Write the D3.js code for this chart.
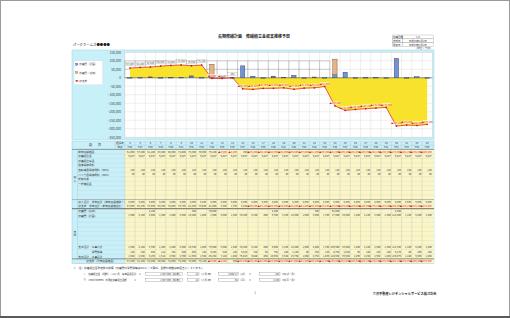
<!DOCTYPE html>
<html lang="ja">
<head>
<meta charset="utf-8">
<title>長期修繕計画 修繕積立金収支推移予想</title>
<script src="https://cdn.jsdelivr.net/npm/d3@7"></script>
<style>
  body { margin: 0; background: #fff; }
  svg { display: block; font-family: "Noto Sans CJK JP", "Noto Sans", sans-serif; }
</style>
</head>
<body>
<script>
// ---- data (千円) ----
var elapsed = [4, 5, 6, 7, 8, 9, 10, 11, 12, 13, 14, 15, 16, 17, 18, 19, 20, 21, 22, 23, 24, 25, 26, 27, 28, 29, 30, 31, 32, 33];
var fiscal = ["H26", "H27", "H28", "H29", "H30", "H31", "H32", "H33", "H34", "H35", "H36", "H37", "H38", "H39", "H40",
              "H41", "H42", "H43", "H44", "H45", "H46", "H47", "H48", "H49", "H50", "H51", "H52", "H53", "H54", "H55"];
var balance = [57200, 61100, 63400, 68900, 72800, 75300, 70900, 75100, -3600, -4200, 450, -65200, -68100, -62300, -62000,
               -59400, -67800, -61200, -59100, -51300, -165400, -191800, -186300, -182100, -178200, -174300, -284100, -278200, -280400, -274300];
var planned = [1500, 2100, 3600, 1400, 2400, 2500, 10400, 1800, 1900, 6600, 1300, 70200, 9100, 800, 5700,
               3100, 14600, 1000, 3900, 1700, 17900, 33000, 1200, 2100, 2400, 1300, 112400, 1100, 6200, 1300];
var additional = [0, 0, 2100, 0, 0, 0, 300, 0, 78000, 0, 0, 0, 0, 0, 4200,
                  0, 0, 0, 500, 0, 92000, 0, 0, 0, 0, 0, 2300, 0, 0, 0];
var reserveFee = [5827, 5827, 5827, 5827, 5827, 5827, 5827, 5827, 5827, 5827, 5827, 5827, 5827, 5827, 5827,
                  5827, 5827, 5827, 5827, 5827, 5827, 5827, 5827, 5827, 5827, 5827, 5827, 5827, 5827, 5827];
var bicycleFee = [120, 120, 120, 120, 120, 120, 120, 120, 120, 120, 120, 120, 120, 120, 120,
                  120, 120, 120, 120, 120, 120, 120, 120, 120, 120, 120, 120, 120, 120, 120];
var bikeFee = [48, 48, 48, 48, 48, 48, 48, 48, 48, 48, 48, 48, 48, 48, 48,
               48, 48, 48, 48, 48, 48, 48, 48, 48, 48, 48, 48, 48, 48, 48];
var openingBalance = 51060;
var yTicks = [150000, 100000, 50000, 0, -50000, -100000, -150000, -200000, -250000, -300000, -350000];
var legendNames = ["修繕費（計画）", "修繕費（追加）", "収支差"];
var incomeLabels = ["前年度繰越金", "修繕積立金", "修繕積立基金", "駐車場使用料", "自転車置場使用料（50%）", "バイク置場使用料（50%）",
                    "受取利息", "一時負担金", "", "", "", "収入合計　単年度計（前年度繰越除く）", "収支差　単年度計（前年度繰越含む）"];
var expenseLabels = ["修繕費（追加）", "修繕費（計画）", "", "", "", "", "", "", "支出合計　工事小計", "　　　　　消費税等", "支出合計　工事合計"];

var W = 510, H = 318;
var fmt = d3.format(",");
function jp(v) { return v == null ? "" : (v < 0 ? "▲" + fmt(-v) : fmt(v)); }

var svg = d3.select("body").append("svg").attr("width", W).attr("height", H);

// page
svg.append("rect").attr("x", 0.5).attr("y", 0.5).attr("width", W - 1).attr("height", H - 2)
    .attr("fill", "#fff").attr("stroke", "#9a9a9a");
svg.append("rect").attr("x", 0).attr("y", 316).attr("width", W).attr("height", 2).attr("fill", "#5a5a5a");

svg.append("text").attr("x", 254).attr("y", 38.2).attr("text-anchor", "middle")
    .attr("font-size", 4).attr("font-weight", "bold").attr("fill", "#222")
    .text("長期修繕計画　修繕積立金収支推移予想");
var sub = svg.append("text").attr("x", 72.8).attr("y", 45.6).attr("font-size", 3.4).attr("fill", "#222");
sub.append("tspan").text("パークホームズ");
sub.append("tspan").attr("font-weight", "bold").text("●●●●");

// info box (top right)
var info = [["修繕回数", "1.0"], ["作成日", "平成26年2月1日"], ["改定日", "平成26年7月1日"]];
info.forEach(function (r, i) {
    var yy = 35 + i * 3.9;
    svg.append("rect").attr("x", 392.3).attr("y", yy).attr("width", 10).attr("height", 3.9)
        .attr("fill", "#fff").attr("stroke", "#888").attr("stroke-width", 0.3);
    svg.append("rect").attr("x", 402.3).attr("y", yy).attr("width", 31).attr("height", 3.9)
        .attr("fill", "#fff").attr("stroke", "#888").attr("stroke-width", 0.3);
    svg.append("text").attr("x", 393).attr("y", yy + 2.9).attr("font-size", 2.5).attr("fill", "#333").text(r[0]);
    svg.append("text").attr("x", 417.8).attr("y", yy + 2.9).attr("font-size", 2.5).attr("text-anchor", "middle").attr("fill", "#333").text(r[1]);
});
svg.append("text").attr("x", 432.5).attr("y", 49.3).attr("font-size", 2.6).attr("text-anchor", "end").attr("fill", "#333").text("（単位：千円）");

// ---- chart ----
var px0 = 124.8, px1 = 432.3, py0 = 52.3, py1 = 137.3;
svg.append("rect").attr("x", 72).attr("y", 50).attr("width", 362).attr("height", 89.5)
    .attr("fill", "#c8f0f9").attr("stroke", "#9fd4e0").attr("stroke-width", 0.5);
svg.append("rect").attr("x", px0).attr("y", py0).attr("width", px1 - px0).attr("height", py1 - py0)
    .attr("fill", "#fff").attr("stroke", "#bcbcbc").attr("stroke-width", 0.3);

var x = d3.scaleBand().domain(elapsed).range([px0, px1]);
var y = d3.scaleLinear().domain([-350000, 150000]).range([py1, py0]);
var bw = x.bandwidth();
function cx(d, i) { return x(elapsed[i]) + bw / 2; }

var grid = svg.append("g");
grid.selectAll("line.h").data(yTicks).enter().append("line")
    .attr("x1", px0).attr("x2", px1).attr("y1", function (d) { return y(d); }).attr("y2", function (d) { return y(d); })
    .attr("stroke", "#d6d6d6").attr("stroke-width", 0.4);
grid.selectAll("line.v").data(elapsed).enter().append("line")
    .attr("x1", function (d) { return x(d); }).attr("x2", function (d) { return x(d); })
    .attr("y1", py0).attr("y2", py1).attr("stroke", "#d6d6d6").attr("stroke-width", 0.4);
// darker grid band in the upper part of the first 20 years
var darkYears = elapsed.slice(0, 21);
grid.selectAll("line.dv").data(darkYears).enter().append("line")
    .attr("x1", function (d) { return x(d); }).attr("x2", function (d) { return x(d); })
    .attr("y1", y(100000)).attr("y2", y(0)).attr("stroke", "#8e8e8e").attr("stroke-width", 0.4);
grid.selectAll("line.dh").data([100000, 50000]).enter().append("line")
    .attr("x1", px0).attr("x2", x(elapsed[19]) + bw)
    .attr("y1", function (d) { return y(d); }).attr("y2", function (d) { return y(d); })
    .attr("stroke", "#8e8e8e").attr("stroke-width", 0.4);

var yAxis = svg.append("g").attr("transform", "translate(121,0)")
    .call(d3.axisLeft(y).tickValues(yTicks).tickSize(0).tickPadding(0).tickFormat(fmt));
yAxis.select(".domain").remove();
yAxis.selectAll("text").attr("font-size", 3.2).attr("fill", "#444").attr("font-family", "'Noto Sans CJK JP', sans-serif");

// area + zero line
var area = d3.area().x(cx).y0(y(0)).y1(function (d) { return y(d); });
svg.append("path").datum(balance).attr("d", area).attr("fill", "#f8e22c");
svg.append("line").attr("x1", px0).attr("x2", px1).attr("y1", y(0)).attr("y2", y(0))
    .attr("stroke", "#333").attr("stroke-width", 0.5);

// stacked bars
var barW = bw * 0.42;
var bars = planned.map(function (v, i) { return { i: i, p: v, a: additional[i] }; });
svg.selectAll("rect.pl").data(bars).enter().append("rect")
    .attr("x", function (d) { return cx(null, d.i) - barW / 2; })
    .attr("y", function (d) { return y(d.p); })
    .attr("width", barW).attr("height", function (d) { return Math.max(0.6, y(0) - y(d.p)); })
    .attr("fill", "#7393d2").attr("stroke", "#24386e").attr("stroke-width", 0.4);
svg.selectAll("rect.ad").data(bars.filter(function (d) { return d.a > 0; })).enter().append("rect")
    .attr("x", function (d) { return cx(null, d.i) - barW / 2; })
    .attr("y", function (d) { return y(d.p + d.a); })
    .attr("width", barW).attr("height", function (d) { return y(0) - y(d.a); })
    .attr("fill", "#e6b287").attr("stroke", "#6e4423").attr("stroke-width", 0.4);

// balance line
var line = d3.line().x(cx).y(function (d) { return y(d); });
svg.append("path").datum(balance).attr("d", line).attr("fill", "none")
    .attr("stroke", "#e8302a").attr("stroke-width", 0.8);
svg.selectAll("rect.mk").data(balance).enter().append("rect")
    .attr("x", function (d, i) { return cx(d, i) - 0.7; }).attr("y", function (d) { return y(d) - 0.7; })
    .attr("width", 1.4).attr("height", 1.4).attr("fill", "#b01010");

// data labels
var lab = svg.selectAll("g.lab").data(balance).enter().append("g")
    .attr("transform", function (d, i) { return "translate(" + cx(d, i) + "," + (y(d) - (d >= 0 ? 3.8 : 2.8)) + ")"; });
lab.append("rect").attr("x", -4.6).attr("y", -1.5).attr("width", 9.2).attr("height", 3)
    .attr("fill", "#fff").attr("fill-opacity", function (d) { return d >= 0 ? 1 : 0.7; })
    .attr("stroke", function (d) { return d >= 0 ? "#999" : "none"; }).attr("stroke-width", 0.3);
lab.append("text").attr("text-anchor", "middle").attr("y", 0.9).attr("font-size", 2.4)
    .attr("fill", function (d) { return d >= 0 ? "#444" : "#e01818"; })
    .text(jp);

// legend
var lg = svg.append("g").attr("transform", "translate(74,60.8)");
lg.append("rect").attr("width", 28.7).attr("height", 24).attr("fill", "#fff").attr("stroke", "#d0d0d0").attr("stroke-width", 0.3);
var lgColors = [["#7393d2", "#24386e"], ["#e6b287", "#6e4423"]];
legendNames.forEach(function (n, i) {
    var yy = 3.5 + i * 8.3;
    if (i < 2) {
        lg.append("rect").attr("x", 1.8).attr("y", yy - 1).attr("width", 2).attr("height", 2)
            .attr("fill", lgColors[i][0]).attr("stroke", lgColors[i][1]).attr("stroke-width", 0.3);
    } else {
        lg.append("line").attr("x1", 1.2).attr("x2", 4.4).attr("y1", yy).attr("y2", yy).attr("stroke", "#e8302a").attr("stroke-width", 0.7);
        lg.append("rect").attr("x", 2.1).attr("y", yy - 0.7).attr("width", 1.4).attr("height", 1.4).attr("fill", "#b01010");
    }
    lg.append("text").attr("x", 5.3).attr("y", yy + 1).attr("font-size", 2.6).attr("fill", "#333").text(n);
});

// ---- table ----
var tx0 = 72, tx1 = 434, labX = 77.5;
var hy0 = 141, hy1 = 145.2, hy2 = 149.4, rh = 4.56;
function rowY(k) { return hy2 + k * rh; }

var prevBal = [openingBalance].concat(balance.slice(0, 29));
var incomeTotal = reserveFee.map(function (v, i) { return v + bicycleFee[i] + bikeFee[i]; });
var nul = elapsed.map(function () { return null; });
var worksSub = planned.map(function (v, i) { return v + additional[i]; });
var tax = worksSub.map(function (v) { return Math.round(v * 0.08); });
var rows = [
    prevBal, reserveFee, nul, nul, bicycleFee, bikeFee, nul, nul, nul, nul, nul, incomeTotal,
    prevBal.map(function (v, i) { return v + incomeTotal[i]; }),
    additional.map(function (v) { return v > 0 ? v : null; }), planned, nul, nul, nul, nul, nul, nul,
    worksSub, tax, worksSub.map(function (v, i) { return v + tax[i]; }),
    balance
];
var rowLabels = incomeLabels.concat(expenseLabels).concat(["収支差（次年度繰越金）"]);
var nRows = rows.length;
var ty1 = rowY(nRows);

// backgrounds
svg.append("rect").attr("x", tx0).attr("y", hy0).attr("width", tx1 - tx0).attr("height", ty1 - hy0)
    .attr("fill", "#c9eff8").attr("stroke", "#8fcbdc").attr("stroke-width", 0.5);
svg.append("rect").attr("x", px0).attr("y", hy2).attr("width", tx1 - px0).attr("height", ty1 - hy2).attr("fill", "#fcf6c6");

// horizontal lines
svg.append("g").selectAll("line").data(d3.range(nRows + 1)).enter().append("line")
    .attr("x1", labX).attr("x2", tx1).attr("y1", rowY).attr("y2", rowY)
    .attr("stroke", "#b9d3dc").attr("stroke-width", 0.3);
svg.append("line").attr("x1", 115).attr("x2", tx1).attr("y1", hy1).attr("y2", hy1).attr("stroke", "#8fbccc").attr("stroke-width", 0.3);
// vertical lines
svg.selectAll("line.cv").data(elapsed).enter().append("line")
    .attr("x1", function (d) { return x(d); }).attr("x2", function (d) { return x(d); })
    .attr("y1", hy0).attr("y2", ty1).attr("stroke", "#b8b49a").attr("stroke-width", 0.3);
[labX, 115].forEach(function (v, i) {
    svg.append("line").attr("x1", v).attr("x2", v).attr("y1", i ? hy0 : hy2).attr("y2", i ? hy2 : rowY(24))
        .attr("stroke", "#8fbccc").attr("stroke-width", 0.3);
});
// section separators
[[hy2, 0.6, "#666"], [rowY(11), 0.5, "#888"], [rowY(13), 0.8, "#555"], [rowY(24), 0.6, "#555"]].forEach(function (s) {
    svg.append("line").attr("x1", tx0).attr("x2", tx1).attr("y1", s[0]).attr("y2", s[0]).attr("stroke", s[2]).attr("stroke-width", s[1]);
});

// header text
svg.append("text").attr("x", 95).attr("y", 146.4).attr("text-anchor", "middle").attr("font-size", 3).attr("fill", "#333").text("項　　目");
svg.append("text").attr("x", 120).attr("y", 144.2).attr("text-anchor", "middle").attr("font-size", 2.5).attr("fill", "#333").text("経過年");
svg.append("text").attr("x", 120).attr("y", 148.4).attr("text-anchor", "middle").attr("font-size", 2.5).attr("fill", "#333").text("年度");
svg.selectAll("text.el").data(elapsed).enter().append("text")
    .attr("x", function (d) { return x(d) + bw / 2; }).attr("y", 144.2).attr("text-anchor", "middle")
    .attr("font-size", 2.6).attr("fill", "#333").text(function (d) { return d; });
svg.selectAll("text.fy").data(fiscal).enter().append("text")
    .attr("x", function (d, i) { return cx(d, i); }).attr("y", 148.4).attr("text-anchor", "middle")
    .attr("font-size", 2.5).attr("fill", "#333").text(function (d) { return d; });

// section labels
[["収", "入", 6.5], ["支", "出", 18.5]].forEach(function (s) {
    svg.append("text").attr("x", 74.8).attr("y", rowY(s[2]) - 1).attr("text-anchor", "middle").attr("font-size", 2.8).attr("fill", "#333").text(s[0]);
    svg.append("text").attr("x", 74.8).attr("y", rowY(s[2]) + 2.6).attr("text-anchor", "middle").attr("font-size", 2.8).attr("fill", "#333").text(s[1]);
});

// row labels
rowLabels.forEach(function (t, k) {
    var last = k === nRows - 1;
    svg.append("text").attr("x", last ? 101 : 78.3).attr("y", rowY(k) + 3.3)
        .attr("text-anchor", last ? "middle" : "start")
        .attr("font-size", 2.7).attr("fill", "#333").text(t);
});

// cells
rows.forEach(function (vals, k) {
    var cells = vals.map(function (v, i) { return { v: v, i: i }; }).filter(function (c) { return c.v != null; });
    svg.append("g").selectAll("text").data(cells).enter().append("text")
        .attr("x", function (c) { return x(elapsed[c.i]) + bw - 0.6; })
        .attr("y", rowY(k) + 3.2).attr("text-anchor", "end").attr("font-size", 2.5)
        .attr("fill", function (c) { return c.v < 0 ? "#e01818" : "#333"; })
        .text(function (c) { return jp(c.v); });
});

// ---- notes ----
svg.append("text").attr("x", 73.3).attr("y", 269.3).attr("font-size", 2.7).attr("fill", "#333")
    .text("※　注：修繕積立金改定後の試算（修繕費の消費税率は8%として算出。金額の端数は四捨五入しています。）");
var notes = [
    ["①　修繕積立金（月額）×12ヶ月÷専有面積合計　＝", "1,507,000（円/年）", "12", "ヶ月/年", "4,858.27", "㎡", "182", "円/㎡・月"],
    ["②　（Park Homes）の現在修繕積立金額　　　＝", "1,507,000（円/年）", "12", "ヶ月/年", "58", "戸", "2,165", "円/戸・月"]
];
notes.forEach(function (n, i) {
    var yy = 272.3 + i * 6;
    var g = svg.append("g").attr("font-size", 2.4).attr("fill", "#333");
    g.append("text").attr("x", 83.5).attr("y", yy + 2.4).text(n[0]);
    g.append("rect").attr("x", 145.5).attr("y", yy).attr("width", 36.7).attr("height", 3.3)
        .attr("fill", "#fff").attr("stroke", "#777").attr("stroke-width", 0.3);
    g.append("text").attr("x", 181.4).attr("y", yy + 2.5).attr("text-anchor", "end").text(n[1]);
    g.append("text").attr("x", 184.7).attr("y", yy + 2.5).attr("text-anchor", "middle").text("÷");
    var boxes = [[187.3, 11.7, n[2], n[3], "÷", 215], [218.3, 20, n[4], n[5], "＝", 250], [259.3, 20.7, n[6], n[7], null, 0]];
    boxes.forEach(function (b) {
        g.append("rect").attr("x", b[0]).attr("y", yy).attr("width", b[1]).attr("height", 3.3)
            .attr("fill", "#fff").attr("stroke", "#777").attr("stroke-width", 0.3);
        g.append("text").attr("x", b[0] + b[1] - 0.8).attr("y", yy + 2.5).attr("text-anchor", "end").text(b[2]);
        g.append("text").attr("x", b[0] + b[1] + 0.8).attr("y", yy + 2.5).text("（" + b[3] + "）");
        if (b[4]) g.append("text").attr("x", b[5]).attr("y", yy + 2.5).attr("text-anchor", "middle").text(b[4]);
    });
});

svg.append("text").attr("x", 255).attr("y", 294.3).attr("text-anchor", "middle").attr("font-size", 2.8).attr("fill", "#444").text("1");
svg.append("text").attr("x", 436.5).attr("y", 294.6).attr("text-anchor", "end").attr("font-size", 3.2)
    .attr("font-weight", "bold").attr("fill", "#222").text("三井不動産レジデンシャルサービス株式会社");
</script>
</body>
</html>
